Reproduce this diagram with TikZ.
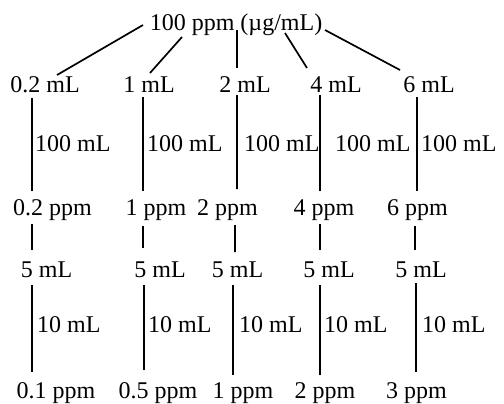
\documentclass[tikz,border=0pt]{standalone}
\usepackage{fontspec}
\setmainfont{Liberation Serif}
\usetikzlibrary{calc}
\begin{document}
\begin{tikzpicture}[x=1bp,y=-1bp,
  lbl/.style={inner sep=0pt,anchor=base,font=\fontsize{24bp}{28bp}\selectfont},
  side/.style={inner sep=0pt,anchor=base west,font=\fontsize{24bp}{28bp}\selectfont},
  con/.style={line width=1.7bp,black}]
\useasboundingbox (0,0) rectangle (504,403);
% top
\node[lbl] (top) at (236,30) {100 ppm (µg/mL)};
% row 1
\node[lbl] (r1a) at (45,92) {0.2 mL};
\node[lbl] (r1b) at (149,92) {1 mL};
\node[lbl] (r1c) at (245,92) {2 mL};
\node[lbl] (r1d) at (336,92) {4 mL};
\node[lbl] (r1e) at (429,92) {6 mL};
% labels 100 mL
\node[side] (la) at (35,151) {100 mL};
\node[side] (lb) at (147,151) {100 mL};
\node[side] (lc) at (244,151) {100 mL};
\node[side] (ld) at (335,151) {100 mL};
\node[side] (le) at (421,151) {100 mL};
% row 2
\node[lbl] (r2a) at (52.5,215) {0.2 ppm};
\node[lbl] (r2b) at (156,215) {1 ppm};
\node[lbl] (r2c) at (227.5,215) {2 ppm};
\node[lbl] (r2d) at (324,215) {4 ppm};
\node[lbl] (r2e) at (417.5,215) {6 ppm};
% row 3
\node[lbl] (r3a) at (46.5,277) {5 mL};
\node[lbl] (r3b) at (160,277) {5 mL};
\node[lbl] (r3c) at (237.5,277) {5 mL};
\node[lbl] (r3d) at (329,277) {5 mL};
\node[lbl] (r3e) at (421,277) {5 mL};
% labels 10 mL
\node[side] (ma) at (37,332) {10 mL};
\node[side] (mb) at (148,332) {10 mL};
\node[side] (mc) at (239,332) {10 mL};
\node[side] (md) at (324,332) {10 mL};
\node[side] (me) at (422,332) {10 mL};
% row 4
\node[lbl] (r4a) at (56,398) {0.1 ppm};
\node[lbl] (r4b) at (158,398) {0.5 ppm};
\node[lbl] (r4c) at (243,398) {1 ppm};
\node[lbl] (r4d) at (325,398) {2 ppm};
\node[lbl] (r4e) at (416.5,398) {3 ppm};
% fan
\draw[con] ($(top.base)+(-93,-5)$) -- ($(r1a.base)+(12,-17)$);
\draw[con] ($(top.base)+(-54,7)$) -- ($(r1b.base)+(1,-19)$);
\draw[con] ($(top.base)+(1,0)$) -- ($(r1c.base)+(-8,-24)$);
\draw[con] ($(top.base)+(49,3)$) -- ($(r1d.base)+(-29,-24)$);
\draw[con] ($(top.base)+(89,0)$) -- ($(r1e.base)+(-29,-22)$);
% row1 -> row2
\draw[con] ($(r1a.base)+(-13,6)$) -- ($(r2a.base)+(-20.5,-24)$);
\draw[con] ($(r1b.base)+(-6,5)$) -- ($(r2b.base)+(-13,-24)$);
\draw[con] ($(r1c.base)+(-8,3)$) -- ($(r2c.base)+(9.5,-26)$);
\draw[con] ($(r1d.base)+(-16,3)$) -- ($(r2d.base)+(-4,-24)$);
\draw[con] ($(r1e.base)+(-12,5)$) -- ($(r2e.base)+(-0.5,-24)$);
% row2 -> row3
\draw[con] ($(r2a.base)+(-20.5,9)$) -- ($(r3a.base)+(-14.5,-27)$);
\draw[con] ($(r2b.base)+(-13,11)$) -- ($(r3b.base)+(-17,-29)$);
\draw[con] ($(r2c.base)+(7.5,10)$) -- ($(r3c.base)+(-2.5,-25)$);
\draw[con] ($(r2d.base)+(-4,9)$) -- ($(r3d.base)+(-9,-27)$);
\draw[con] ($(r2e.base)+(-2.5,11)$) -- ($(r3e.base)+(-6,-27)$);
% row3 -> row4
\draw[con] ($(r3a.base)+(-14.5,8)$) -- ($(r4a.base)+(-24,-26)$);
\draw[con] ($(r3b.base)+(-16,8)$) -- ($(r4b.base)+(-14,-28)$);
\draw[con] ($(r3c.base)+(-4.5,8)$) -- ($(r4c.base)+(-10,-23)$);
\draw[con] ($(r3d.base)+(-9,8)$) -- ($(r4d.base)+(-5,-23)$);
\draw[con] ($(r3e.base)+(-5,6)$) -- ($(r4e.base)+(-0.5,-26)$);
\end{tikzpicture}
\end{document}
